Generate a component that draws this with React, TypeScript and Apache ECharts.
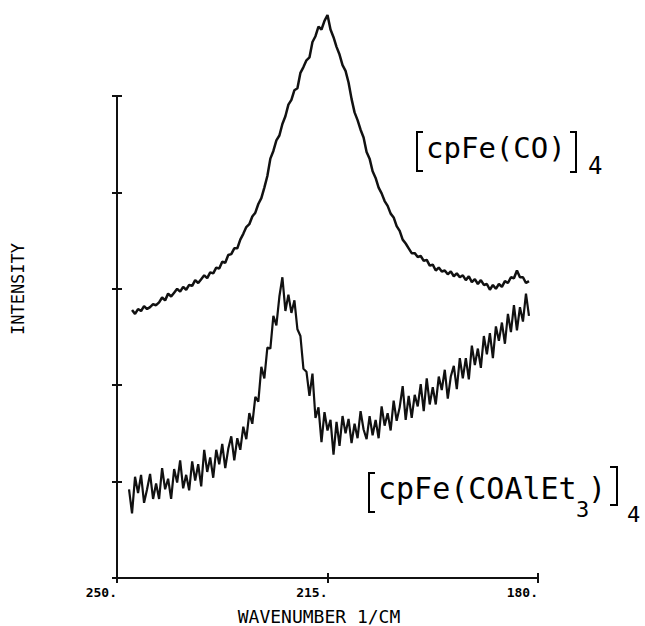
import React, { useEffect, useRef } from "react";
import * as echarts from "echarts";

// Wavenumber sampling (cm^-1), descending
const TOP_START = 247.5;
const BOTTOM_START = 248;
const STEP = 0.5;

// [cpFe(CO)]4 trace intensities (arbitrary units, y axis 0..50)
const topIntensity = [
  27.8, 27.4, 27.9, 27.7, 28.2, 27.9, 28.1, 28.4, 28.3, 28.6,
  29.1, 28.8, 29.5, 29.2, 29.6, 30.0, 29.7, 30.2, 29.9, 30.4,
  30.3, 30.9, 30.6, 31.0, 31.4, 31.1, 31.7, 31.6, 32.2, 32.1,
  32.8, 32.7, 33.5, 33.6, 34.2, 34.2, 35.1, 35.7, 36.4, 36.7,
  37.5, 37.9, 38.8, 39.4, 40.5, 41.7, 43.5, 44.3, 45.4, 45.9,
  47.1, 47.9, 49.1, 49.6, 50.6, 50.8, 52.4, 53.0, 53.7, 54.0,
  55.6, 56.2, 57.2, 56.9, 57.8, 58.4, 56.9, 56.1, 55.1, 54.3,
  53.2, 52.6, 51.4, 49.7, 48.3, 47.5, 46.5, 45.7, 44.2, 43.5,
  42.2, 41.5, 40.5, 39.9, 39.1, 38.6, 37.8, 37.4, 36.5, 36.0,
  35.1, 34.7, 34.2, 33.7, 33.7, 33.3, 33.4, 32.9, 33.0, 32.4,
  32.5, 31.9, 32.2, 31.8, 31.9, 31.5, 31.8, 31.3, 31.6, 31.2,
  31.4, 30.9, 31.3, 30.7, 31.0, 30.5, 30.9, 30.4, 30.5, 29.9,
  30.4, 30.0, 30.5, 30.2, 30.8, 30.6, 31.2, 31.1, 31.9, 31.2,
  31.2, 30.6, 30.8,
];

// [cpFe(COAlEt3)]4 trace intensities
const bottomIntensity = [
  9.2, 6.7, 10.5, 8.8, 10.7, 7.8, 9.2, 10.8, 8.2, 9.8,
  8.2, 11.4, 9.2, 10.3, 8.2, 11.3, 9.9, 12.2, 9.3, 10.7,
  9.1, 12.1, 10.1, 11.8, 9.5, 13.3, 11.0, 12.5, 10.4, 13.3,
  11.8, 13.9, 11.4, 13.4, 14.7, 12.2, 14.5, 13.3, 15.7, 14.4,
  17.1, 16.0, 18.8, 18.3, 21.9, 20.7, 23.9, 23.8, 27.2, 26.2,
  29.2, 31.2, 27.7, 29.4, 27.5, 28.8, 25.8, 25.1, 21.7, 21.4,
  18.9, 21.2, 16.6, 17.7, 14.1, 17.2, 15.3, 16.4, 12.8, 16.2,
  13.7, 16.8, 15.0, 16.5, 14.0, 16.0, 14.5, 17.3, 15.4, 14.4,
  16.8, 14.8, 16.4, 14.5, 17.8, 15.8, 17.1, 15.3, 18.4, 16.3,
  17.7, 19.9, 16.4, 18.9, 16.6, 19.0, 17.8, 20.1, 17.3, 20.7,
  18.0, 19.8, 18.0, 20.9, 19.5, 21.6, 18.6, 20.9, 22.0, 19.6,
  22.8, 20.7, 22.8, 20.6, 24.1, 22.1, 23.8, 21.8, 25.1, 23.2,
  25.4, 22.8, 26.1, 24.6, 26.5, 24.3, 27.4, 25.5, 28.3, 25.7,
  28.1, 26.6, 29.5, 27.2,
];

const xTickValues = [180, 215, 250];
const xAxisTitle = "WAVENUMBER 1/CM";
const yAxisTitle = "INTENSITY";

function toPairs(start: number, values: number[]) {
  return values.map((v, i) => [start - i * STEP, v]);
}

const INK = "#111";
const MONO = '"DejaVu Sans Mono", "Liberation Mono", monospace';

export default function App() {
  const ref = useRef<HTMLDivElement>(null);
  useEffect(() => {
    if (!ref.current) return;
    const chart = echarts.init(ref.current, null, { renderer: "svg" });
    const xBase = {
      type: "value",
      min: 180,
      max: 250,
      inverse: true,
      position: "bottom",
      splitLine: { show: false },
    };
    const yBase = {
      type: "value",
      min: 0,
      max: 50,
      interval: 10,
      position: "left",
      splitLine: { show: false },
      axisLabel: { show: false },
    };
    const text = (t: string, x: number, y: number, size: number) => ({
      type: "text",
      x,
      y,
      style: {
        text: t,
        font: `${size}px ${MONO}`,
        fill: "#000",
        textAlign: "left",
        textVerticalAlign: "middle",
      },
    });
    const bracket = (pts: number[][]) => ({
      type: "polyline",
      shape: { points: pts },
      style: { stroke: "#000", lineWidth: 2, fill: null },
    });
    chart.setOption({
      animation: false,
      backgroundColor: "#fff",
      grid: { left: 117, right: 107, top: 96, bottom: 48 },
      xAxis: [
        {
          ...xBase,
          axisLine: { show: true, lineStyle: { color: INK, width: 2 } },
          axisTick: {
            show: true,
            customValues: xTickValues,
            length: 5,
            lineStyle: { color: INK, width: 2 },
          },
          axisLabel: {
            show: true,
            customValues: xTickValues,
            formatter: (v: number) => `${v}.`,
            align: "right",
            margin: 8,
            color: "#000",
            fontFamily: MONO,
            fontSize: 13,
            fontWeight: "bold",
          },
        },
        {
          ...xBase,
          axisLine: { show: false },
          axisTick: {
            show: true,
            inside: true,
            customValues: xTickValues,
            length: 5,
            lineStyle: { color: INK, width: 2 },
          },
          axisLabel: { show: false },
        },
      ],
      yAxis: [
        {
          ...yBase,
          axisLine: { show: true, lineStyle: { color: INK, width: 2 } },
          axisTick: { show: true, length: 5, lineStyle: { color: INK, width: 2 } },
        },
        {
          ...yBase,
          axisLine: { show: false },
          axisTick: { show: true, inside: true, length: 5, lineStyle: { color: INK, width: 2 } },
        },
      ],
      series: [
        {
          type: "line",
          name: "[cpFe(CO)]4",
          data: toPairs(TOP_START, topIntensity),
          showSymbol: false,
          symbol: "none",
          clip: false,
          lineStyle: { color: INK, width: 2.5 },
        },
        {
          type: "line",
          name: "[cpFe(COAlEt3)]4",
          data: toPairs(BOTTOM_START, bottomIntensity),
          showSymbol: false,
          symbol: "none",
          clip: false,
          lineStyle: { color: INK, width: 2.2 },
        },
      ],
      graphic: [
        {
          type: "text",
          x: 18,
          y: 289,
          rotation: Math.PI / 2,
          style: {
            text: yAxisTitle,
            font: `17px ${MONO}`,
            fill: "#000",
            textAlign: "center",
            textVerticalAlign: "middle",
          },
        },
        {
          type: "text",
          x: 319,
          y: 616,
          style: {
            text: xAxisTitle,
            font: `18px ${MONO}`,
            fill: "#000",
            textAlign: "center",
            textVerticalAlign: "middle",
          },
        },
        // [cpFe(CO)]4
        bracket([[423, 132], [417, 132], [417, 171], [423, 171]]),
        text("cpFe(CO)", 426, 148, 29),
        bracket([[570, 132], [576, 132], [576, 172], [570, 172]]),
        text("4", 588, 166, 24),
        // [cpFe(COAlEt3)]4
        bracket([[375, 473], [369, 473], [369, 512], [375, 512]]),
        text("cpFe(COAlEt", 378, 488, 30),
        text("3", 576, 509, 22),
        text(")", 588, 488, 30),
        bracket([[610, 467], [617, 467], [617, 505], [610, 505]]),
        text("4", 627, 514, 22),
      ],
    });
    return () => chart.dispose();
  }, []);
  return (
    <div
      ref={ref}
      style={{ position: "fixed", left: 0, top: 0, width: 645, height: 626, background: "#fff" }}
    />
  );
}
